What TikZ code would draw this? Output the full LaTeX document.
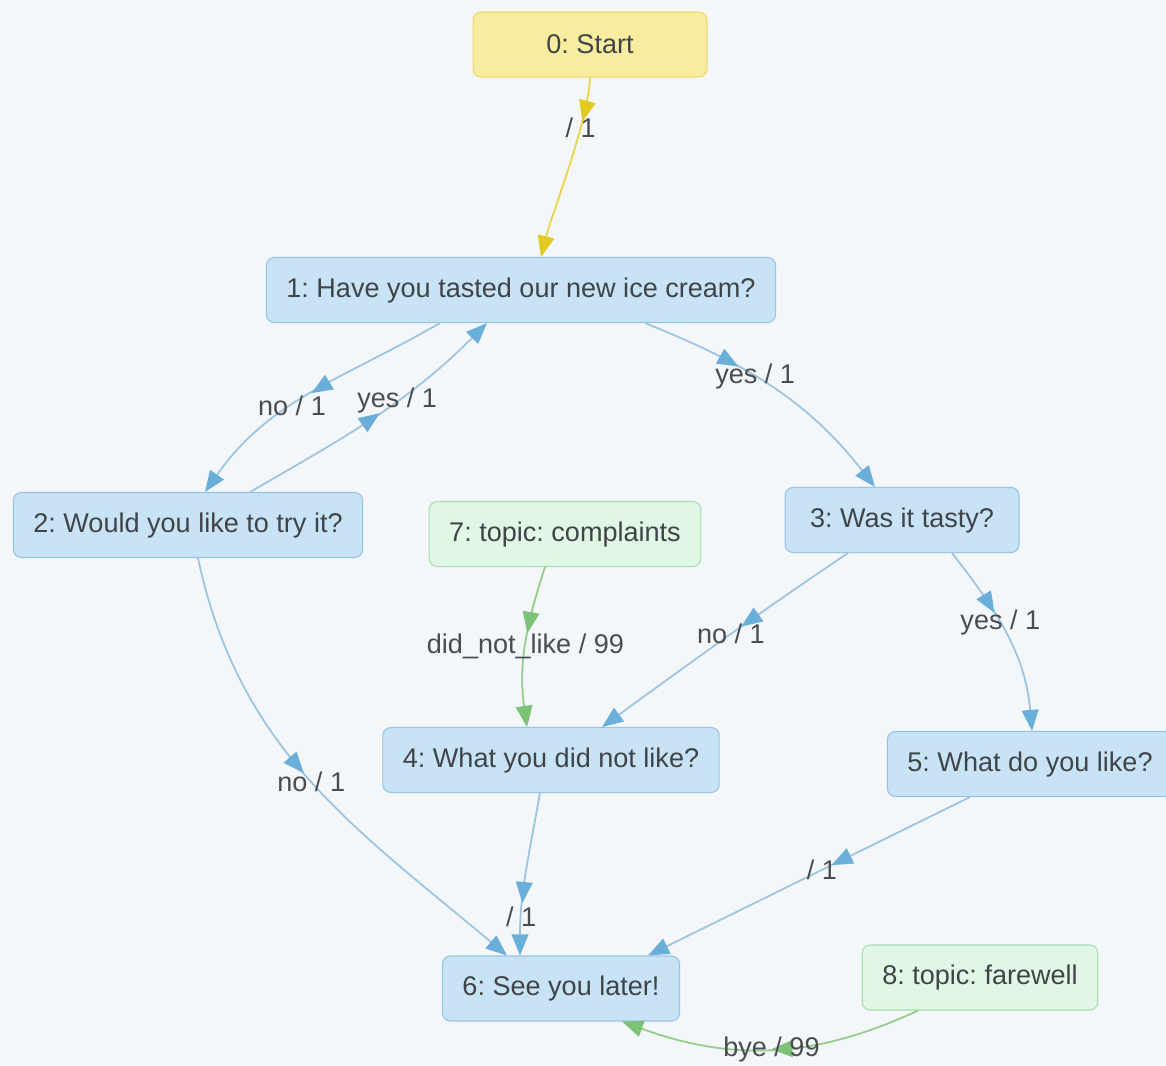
\documentclass[tikz,border=0pt]{standalone}
\usepackage{fontspec}
\setmainfont{Liberation Sans}
\usetikzlibrary{arrows.meta,decorations.markings,calc}
\frenchspacing

\definecolor{bgcol}{HTML}{F4F7FA}
\definecolor{qfill}{HTML}{C9E3F6}
\definecolor{qline}{HTML}{98C4E4}
\definecolor{sfill}{HTML}{F8EC9E}
\definecolor{sline}{HTML}{EBDA74}
\definecolor{tfill}{HTML}{E1F7E5}
\definecolor{tline}{HTML}{A9DCB2}
\definecolor{bluelink}{HTML}{9DC4DF}
\definecolor{bluetip}{HTML}{69AFDA}
\definecolor{yellink}{HTML}{E8D446}
\definecolor{yeltip}{HTML}{E3CA1E}
\definecolor{grnlink}{HTML}{93CC8B}
\definecolor{grntip}{HTML}{7CC377}
\definecolor{txt}{HTML}{3F4448}
\definecolor{lbltxt}{HTML}{4A4D50}

\tikzset{
  tri/.tip={Triangle[length=12pt,width=9.5pt]},
  box/.style={rounded corners=4.5pt, line width=0.6pt, minimum width=4.68cm,
    minimum height=1.3cm, inner xsep=0.4cm, text=txt,
    font=\fontsize{15.4}{18}\selectfont},
  qbox/.style={box, fill=qfill, draw=qline},
  startbox/.style={box, fill=sfill, draw=sline},
  topicbox/.style={box, fill=tfill, draw=tline},
  midtip/.style 2 args={postaction={decorate},
    decoration={markings, mark=at position #1 with {\arrow{tri[color=#2]}}}},
  link/.style={draw=bluelink, line width=1pt, -{tri[color=bluetip]}},
  linky/.style={draw=yellink, line width=1pt, -{tri[color=yeltip]}},
  linkg/.style={draw=grnlink, line width=1pt, -{tri[color=grntip]}},
  lbl/.style={text=lbltxt, font=\fontsize{15.4}{18}\selectfont, inner sep=1pt},
}

\begin{document}
\begin{tikzpicture}[x=0.02cm, y=0.02cm]
\fill[bgcol] (0,0) rectangle (1166,-1065);
\useasboundingbox (0,0) rectangle (1166,-1065);

% states
\node[startbox] (n0) at (590,-44.5) {0: Start};
\node[qbox] (n1) at (521,-290) {1: Have you tasted our new ice cream?};
\node[qbox] (n2) at (188,-525) {2: Would you like to try it?};
\node[topicbox] (n7) at (565,-534) {7: topic: complaints};
\node[qbox] (n3) at (902,-520) {3: Was it tasty?};
\node[qbox] (n4) at (551,-760) {4: What you did not like?};
\node[qbox] (n5) at (1030,-764) {5: What do you like?};
\node[qbox] (n6) at (561,-988.5) {6: See you later!};
\node[topicbox] (n8) at (980,-977.5) {8: topic: farewell};

% transitions
\draw[linky, midtip={0.24}{yeltip}] (n0.south) to[out=-92,in=76,looseness=0.6]
  node[lbl, pos=0.3] {/ 1} ($(n1.north)+(20,0)$);
\draw[link, midtip={0.5}{bluetip}] ($(n1.south)+(-81,0)$) to[out=-150,in=55]
  node[lbl, pos=0.58] {no / 1} ($(n2.north)+(17,0)$);
\draw[link, midtip={0.52}{bluetip}] ($(n2.north)+(62,0)$) to[out=30,in=-135]
  node[lbl, pos=0.6] {yes / 1} ($(n1.south)+(-34,0)$);
\draw[link, midtip={0.36}{bluetip}] ($(n1.south)+(124,0)$) to[out=-22,in=128]
  node[lbl, pos=0.42] {yes / 1} ($(n3.north)+(-27,0)$);
\draw[link, midtip={0.43}{bluetip}] ($(n3.south)+(-54,0)$) to[out=-146,in=36]
  node[lbl, pos=0.47] {no / 1} ($(n4.north)+(51,0)$);
\draw[link, midtip={0.37}{bluetip}] ($(n3.south)+(50,0)$) to[out=-52,in=95]
  node[lbl, pos=0.42] {yes / 1} ($(n5.north)+(2,0)$);
\draw[linkg, midtip={0.42}{grntip}] ($(n7.south)+(-20,0)$) to[out=-108,in=98]
  node[lbl, pos=0.5] {did\_not\_like / 99} ($(n4.north)+(-24,0)$);
\draw[link, midtip={0.47}{bluetip}] ($(n2.south)+(10,0)$) to[out=-78,in=140]
  node[lbl, pos=0.5] {no / 1} ($(n6.north)+(-54,0)$);
\draw[link, midtip={0.68}{bluetip}] ($(n4.south)+(-11,0)$) to[out=-100,in=90]
  node[lbl, pos=0.78] {/ 1} ($(n6.north)+(-41,0)$);
\draw[link, midtip={0.43}{bluetip}] ($(n5.south)+(-60,0)$) --
  node[lbl, pos=0.46] {/ 1} ($(n6.north)+(87,0)$);
\draw[linkg, midtip={0.5}{grntip}] ($(n8.south)+(-62,0)$) to[out=-155,in=-20]
  node[lbl, pos=0.5] {bye / 99} ($(n6.south)+(61,0)$);
\end{tikzpicture}
\end{document}
